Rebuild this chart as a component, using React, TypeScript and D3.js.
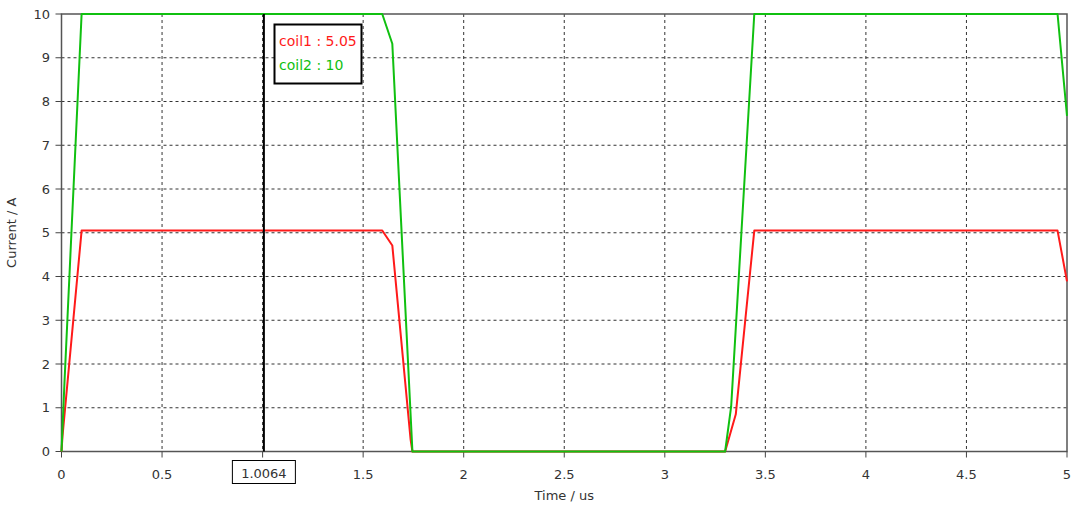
import React from "react";
import * as d3 from "d3";

const W = 1080;
const H = 505;

const coil1Time = [0, 0.005, 0.1, 1.595, 1.645, 1.736, 1.745, 3.3, 3.353, 3.445, 4.953, 5.0];
const coil1Value = [0, 0.35, 5.05, 5.05, 4.71, 0.27, 0, 0, 0.85, 5.05, 5.05, 3.89];
const coil2Time = [0, 0.015, 0.1, 1.595, 1.645, 1.745, 3.3, 3.33, 3.445, 4.953, 5.0];
const coil2Value = [0, 1.6, 10, 10, 9.32, 0, 0, 1.03, 10, 10, 7.67];

const xTicks = [0, 0.5, 1, 1.5, 2, 2.5, 3, 3.5, 4, 4.5, 5];
const xTickLabels = ["0", "0.5", "1", "1.5", "2", "2.5", "3", "3.5", "4", "4.5", "5"];
const yTicks = [0, 1, 2, 3, 4, 5, 6, 7, 8, 9, 10];

const cursorTime = 1.0064;
const cursorLabel = "1.0064";
const legendLabels = ["coil1 : 5.05", "coil2 : 10"];
const xTitle = "Time / us";
const yTitle = "Current / A";

const RED = "#ff1a1a";
const GREEN = "#10c010";
const FONT = "'DejaVu Sans', Verdana, sans-serif";

export default function App() {
  const left = 61.5, right = 1067, top = 14, bottom = 451.5;
  const x = d3.scaleLinear().domain([0, 5]).range([left, right]);
  const y = d3.scaleLinear().domain([0, 10]).range([bottom, top]);
  const line = d3.line<[number, number]>().x((d) => x(d[0])).y((d) => y(d[1]));
  const s1 = coil1Time.map((t, i) => [t, coil1Value[i]] as [number, number]);
  const s2 = coil2Time.map((t, i) => [t, coil2Value[i]] as [number, number]);
  const cx = x(cursorTime);
  const boxHalf = 31.5;

  return (
    <svg width={W} height={H} style={{ position: "absolute", left: 0, top: 0, background: "#fff" }} fontFamily={FONT}>
      <rect x={0} y={0} width={W} height={H} fill="#fff" />
      {/* grid */}
      {xTicks.slice(1, -1).map((t) => (
        <line key={"gx" + t} x1={x(t)} x2={x(t)} y1={top} y2={bottom} stroke="#333" strokeDasharray="3,3" strokeWidth={1} />
      ))}
      {yTicks.slice(1, -1).map((t) => (
        <line key={"gy" + t} x1={left} x2={right} y1={y(t)} y2={y(t)} stroke="#333" strokeDasharray="3,3" strokeWidth={1} />
      ))}
      {/* frame */}
      <rect x={left} y={top} width={right - left} height={bottom - top} fill="none" stroke="#555" strokeWidth={1.5} />
      {/* ticks */}
      {xTicks.map((t) => (
        <line key={"tx" + t} x1={x(t)} x2={x(t)} y1={bottom} y2={bottom + 6} stroke="#444" strokeWidth={1} />
      ))}
      {yTicks.map((t) => (
        <line key={"ty" + t} x1={left - 6} x2={left} y1={y(t)} y2={y(t)} stroke="#444" strokeWidth={1} />
      ))}
      {xTicks.map((t, i) =>
        Math.abs(x(t) - cx) < boxHalf + 4 ? null : (
          <text key={"lx" + t} x={x(t)} y={479} textAnchor="middle" fontSize={13} fill="#333">
            {xTickLabels[i]}
          </text>
        )
      )}
      {yTicks.map((t) => (
        <text key={"ly" + t} x={50} y={y(t) + 4.5} textAnchor="end" fontSize={13} fill="#333">
          {String(t)}
        </text>
      ))}
      <text x={(left + right) / 2} y={500} textAnchor="middle" fontSize={13} fill="#333">{xTitle}</text>
      <text transform={`translate(16,${(top + bottom) / 2}) rotate(-90)`} textAnchor="middle" fontSize={13} fill="#333">{yTitle}</text>
      {/* series */}
      <path d={line(s1) || ""} fill="none" stroke={RED} strokeWidth={2} strokeLinejoin="round" />
      <path d={line(s2) || ""} fill="none" stroke={GREEN} strokeWidth={2} strokeLinejoin="round" />
      {/* cursor */}
      <line x1={cx} x2={cx} y1={top} y2={bottom} stroke="#000" strokeWidth={2} />
      <rect x={cx - boxHalf} y={460.5} width={boxHalf * 2} height={23} fill="#fff" stroke="#000" strokeWidth={1} />
      <text x={cx} y={478} textAnchor="middle" fontSize={13} fill="#333">{cursorLabel}</text>
      {/* legend */}
      <rect x={274.5} y={24.5} width={87} height={59} fill="#fff" stroke="#000" strokeWidth={2} />
      <text x={279} y={46} fontSize={14} fill={RED}>{legendLabels[0]}</text>
      <text x={279} y={70} fontSize={14} fill={GREEN}>{legendLabels[1]}</text>
    </svg>
  );
}
